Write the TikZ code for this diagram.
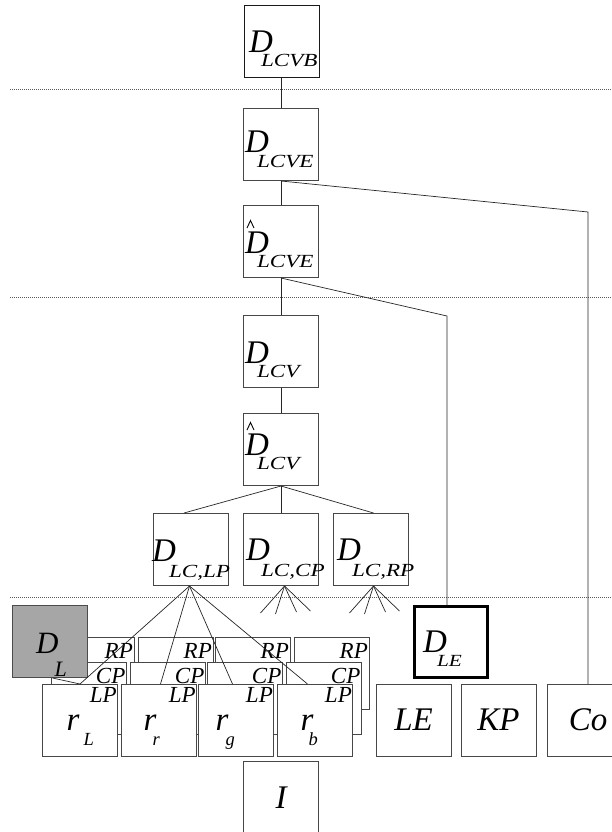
\documentclass[tikz,border=0pt]{standalone}
\usepackage{fontspec}
\setmainfont{Liberation Serif}
\usepackage{graphicx}
\usetikzlibrary{calc}
\newcommand\fs[1]{\fontsize{#1}{#1}\selectfont}
% D with subscript: #1 kern, #2 drop, #3 subscript text
\newcommand\Dsub[3]{{\fs{33}\itshape D}\kern#1\raisebox{-#2}{\fs{18.5}\itshape\scalebox{1.25}[1]{#3}}}
% r with subscript: #1 kern, #2 subscript
\newcommand\rsub[2]{{\fs{33}\itshape r}\kern#1\raisebox{-15pt}{\fs{18.5}\itshape #2}}
\definecolor{dlgray}{HTML}{A6A6A6}
\tikzset{
  box/.style={draw=black!72, line width=1pt, fill=white, minimum width=75pt,
    minimum height=72pt, inner sep=0pt, anchor=north west},
  conn/.style={draw=black!85, line width=0.7pt},
  guide/.style={draw=black!65, line width=0.6pt, dash pattern=on 0.8pt off 1.2pt},
  lbl/.style={inner sep=0pt, anchor=base west},
  big/.style={inner sep=0pt, anchor=base, font=\fs{33}\itshape},
  corner/.style={inner sep=0pt, anchor=base east, font=\fs{23}\itshape},
  hat/.style={draw=black, line width=0.9pt, line join=miter}
}
\begin{document}
\begin{tikzpicture}[x=1pt,y=-1pt]
\useasboundingbox (0,0) rectangle (612,832);
\clip (0,0) rectangle (612,832);
\fill[white] (0,0) rectangle (612,832);

% dotted level separators
\coordinate (g1a) at (10,89);  \coordinate (g1b) at (612,89);
\coordinate (g2a) at (10,297); \coordinate (g2b) at (612,297);
\coordinate (g3a) at (10,597); \coordinate (g3b) at (612,597);
\draw[guide] (g1a) -- (g1b);
\draw[guide] (g2a) -- (g2b);
\draw[guide] (g3a) -- (g3b);

% main column
\node[box, draw=black!90] (LCVB) at (244,5) {};
\node[box] (LCVE) at (243,108) {};
\node[box] (hLCVE) at (243,205) {};
\node[box] (LCV) at (243,315) {};
\node[box] (hLCV) at (243,413) {};
\node[box] (LCLP) at (153,513) {};
\node[box] (LCCP) at (243,513) {};
\node[box] (LCRP) at (333,513) {};

\node[lbl] at (249,53) {\Dsub{-12pt}{14pt}{LCVB}};
\node[lbl] at (245,153) {\Dsub{-12pt}{14pt}{LCVE}};
\node[lbl] (lhLCVE) at (245,253) {\Dsub{-12pt}{14pt}{LCVE}};
\node[lbl] at (245,363) {\Dsub{-12pt}{14pt}{LCV}};
\node[lbl] (lhLCV) at (245,455) {\Dsub{-12pt}{14pt}{LCV}};
\node[lbl] at (152,561) {\Dsub{-7pt}{16pt}{LC,LP}};
\node[lbl] at (246,560) {\Dsub{-9pt}{16pt}{LC,CP}};
\node[lbl] at (337,560) {\Dsub{-9pt}{16pt}{LC,RP}};

% hats
\draw[hat] ($(lhLCVE.base west)+(2,-25)$) -- ($(lhLCVE.base west)+(5.5,-32.5)$) -- ($(lhLCVE.base west)+(9,-25)$);
\draw[hat] ($(lhLCV.base west)+(2,-25)$) -- ($(lhLCV.base west)+(5.5,-32.5)$) -- ($(lhLCV.base west)+(9,-25)$);

% right-hand boxes
\node[box, draw=black, line width=2.6pt, minimum width=73pt, minimum height=71pt] (DLE) at (413,605) {};
\node[lbl] at (423,652) {{\fs{33}\itshape D}\kern-10pt\raisebox{-14pt}{\fs{17}\itshape\scalebox{1.25}[1]{LE}}};
\node[box] (LE) at (376,684) {};
\node[box] (KP) at (461,684) {};
\node[box] (Co) at (547,684) {};
\node[big] at (413.5,730) {LE};
\node[big] at (498.5,730) {KP};
\node[big] at (588,730) {Co};

% stacks: RP layer
\foreach \n/\fx in {a/42,b/121,c/198,d/277}{
  \node[box] (RP\n) at (\fx+16.5,637) {};
  \node[corner] at ($(RP\n.north east)+(-1.5,21)$) {RP};
}
% CP layer
\foreach \n/\fx in {a/42,b/121,c/198,d/277}{
  \node[box] (CP\n) at (\fx+8.5,662) {};
  \node[corner] at ($(CP\n.north east)+(-1,21)$) {CP};
}
% D_L
\node[box, fill=dlgray, draw=black!70] (DL) at (12,605) {};
\node[lbl] at (36,653) {{\fs{31}\itshape D}\kern-4pt\raisebox{-23pt}{\fs{22}\itshape L}};
% LP (front) layer
\node[box] (rL) at (42,684) {};
\node[box] (rr) at (121,684) {};
\node[box] (rg) at (198,684) {};
\node[box] (rb) at (277,684) {};
\foreach \n in {rL,rr,rg,rb}{
  \node[corner] at ($(\n.north east)+(-1,18)$) {LP};
}
\node[lbl] at (66.5,730) {\rsub{4pt}{L}};
\node[lbl] at (143.5,730) {\rsub{-4pt}{r}};
\node[lbl] at (215.5,730) {\rsub{-3pt}{g}};
\node[lbl] at (300.5,730) {\rsub{-5pt}{b}};

% I box
\node[box] (I) at (243,761) {};
\node[big] at (281,808) {I};

% connectors in the main column
\draw[conn] (LCVB.south -| LCVE.north) -- (LCVE.north);
\draw[conn] (LCVE.south) -- (hLCVE.north);
\draw[conn] (hLCVE.south) -- (LCV.north);
\draw[conn] (LCV.south) -- (hLCV.north);
\draw[conn] (hLCV.south) -- ([xshift=-7pt]LCLP.north);
\draw[conn] (hLCV.south) -- (LCCP.north);
\draw[conn] (hLCV.south) -- ([xshift=2.5pt]LCRP.north);

% long connectors
\coordinate (cob) at (588,212);
\draw[conn] (LCVE.south) -- (cob) -- (cob |- Co.north);
\coordinate (leb) at (447,316);
\draw[conn] (hLCVE.south) -- (leb) -- (leb |- DLE.north);

% fan from D_LC,LP to the image planes
\coordinate (apex) at ([xshift=-1.5pt]LCLP.south);
\draw[conn] (apex) -- (rL.north);
\draw[conn] (apex) -- ([xshift=1.5pt]rr.north);
\draw[conn] (apex) -- ([xshift=-3.5pt]rg.north);
\draw[conn] (apex) -- ([xshift=-7.5pt]rb.north);
\draw[conn] ([xshift=2.5pt]DL.south) -- (rL.north);

% small fans
\foreach \dx/\dy [count=\i] in {-24/27,-9/28,12/26,26/25}{
  \coordinate (fc\i) at ($(LCCP.south)+(3.5+\dx,\dy)$);
  \draw[conn] ([xshift=3.5pt]LCCP.south) -- (fc\i);
  \coordinate (fr\i) at ($(LCRP.south)+(2.5+\dx,\dy)$);
  \draw[conn] ([xshift=2.5pt]LCRP.south) -- (fr\i);
}
\end{tikzpicture}
\end{document}
